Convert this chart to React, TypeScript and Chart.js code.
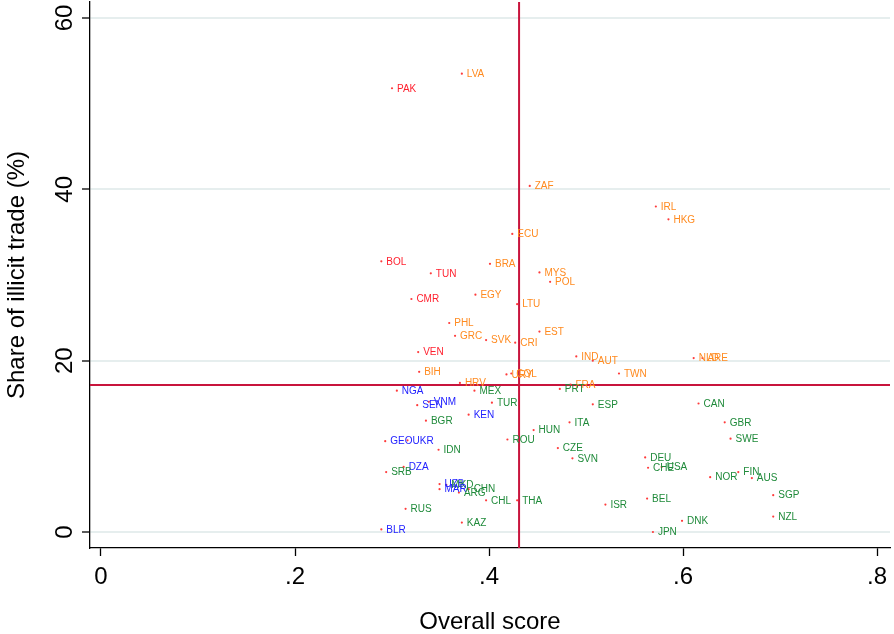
import React, { useEffect, useRef } from "react";
import { Chart, registerables } from "chart.js";

Chart.register(...registerables);

// ---- Data ----
const countries = [
  "PAK", "LVA", "ZAF", "ECU", "IRL", "HKG", "BRA", "MYS", "POL", "LTU",
  "EST", "SVK", "CRI", "IND", "NLD", "ARE", "AUT", "BOL", "TUN", "CMR",
  "EGY", "PHL", "GRC", "VEN", "BIH", "HRV", "URY", "COL", "TWN", "FRA",
  "PRT", "NGA", "MEX", "SEN", "VNM", "TUR", "KEN", "ESP", "CAN", "BGR",
  "ITA", "GBR", "HUN", "SWE", "ROU", "GEO", "UKR", "IDN", "CZE", "SVN",
  "DEU", "CHE", "USA", "DZA", "SRB", "FIN", "NOR", "AUS", "UZB", "MKD",
  "MAR", "CHN", "ARG", "SGP", "BEL", "CHL", "THA", "ISR", "RUS", "NZL",
  "DNK", "KAZ", "BLR", "JPN",
];
const overallScore = [
  0.300, 0.372, 0.442, 0.424, 0.572, 0.585, 0.401, 0.452, 0.463, 0.429,
  0.452, 0.397, 0.427, 0.490, 0.611, 0.620, 0.507, 0.289, 0.340, 0.320,
  0.386, 0.359, 0.365, 0.327, 0.328, 0.370, 0.418, 0.423, 0.534, 0.484,
  0.473, 0.305, 0.385, 0.326, 0.338, 0.403, 0.379, 0.507, 0.616, 0.335,
  0.483, 0.643, 0.446, 0.649, 0.419, 0.293, 0.316, 0.348, 0.471, 0.486,
  0.561, 0.564, 0.578, 0.312, 0.294, 0.657, 0.628, 0.671, 0.349, 0.356,
  0.349, 0.379, 0.369, 0.693, 0.563, 0.397, 0.429, 0.520, 0.314, 0.693,
  0.599, 0.372, 0.289, 0.569,
];
const illicitShare = [
  51.8, 53.5, 40.4, 34.8, 38.0, 36.5, 31.3, 30.3, 29.2, 26.6,
  23.4, 22.4, 22.1, 20.5, 20.3, 20.3, 20.0, 31.6, 30.2, 27.2,
  27.7, 24.4, 22.9, 21.0, 18.7, 17.4, 18.4, 18.5, 18.5, 17.2,
  16.7, 16.5, 16.5, 14.8, 15.2, 15.1, 13.7, 14.9, 15.0, 13.0,
  12.8, 12.8, 11.9, 10.9, 10.8, 10.6, 10.7, 9.6, 9.8, 8.6,
  8.7, 7.5, 7.6, 7.6, 7.0, 7.0, 6.4, 6.3, 5.6, 5.5,
  5.0, 5.0, 4.6, 4.3, 3.9, 3.7, 3.7, 3.2, 2.7, 1.8,
  1.3, 1.1, 0.3, 0.0,
];
// group: r = red, o = orange, b = blue, g = green
const group = [
  "r", "o", "o", "o", "o", "o", "o", "o", "o", "o",
  "o", "o", "o", "o", "o", "o", "o", "r", "r", "r",
  "o", "o", "o", "r", "o", "o", "o", "o", "o", "o",
  "g", "b", "g", "b", "b", "g", "b", "g", "g", "g",
  "g", "g", "g", "g", "g", "b", "b", "g", "g", "g",
  "g", "g", "g", "b", "g", "g", "g", "g", "b", "g",
  "b", "g", "g", "g", "g", "g", "g", "g", "g", "g",
  "g", "g", "b", "g",
];
const meanScore = 0.431;
const meanShare = 17.16;
const xTicks = [0, 0.2, 0.4, 0.6, 0.8];
const xTickLabels = ["0", ".2", ".4", ".6", ".8"];
const yTicks = [0, 20, 40, 60];
const yTickLabels = ["0", "20", "40", "60"];

const groupColors: Record<string, string> = {
  r: "#ff1f2d",
  o: "#ff8a1f",
  b: "#2222ff",
  g: "#1f8a3a",
};

const FONT = "'Liberation Sans', Arial, sans-serif";

const refLinesPlugin = {
  id: "refLines",
  beforeDatasetsDraw(chart: any) {
    const { ctx, chartArea, scales } = chart;
    const x = scales.x.getPixelForValue(meanScore);
    const y = scales.y.getPixelForValue(meanShare);
    ctx.save();
    ctx.strokeStyle = "#c8143c";
    ctx.lineWidth = 2;
    ctx.beginPath();
    ctx.moveTo(x, chartArea.top);
    ctx.lineTo(x, chartArea.bottom);
    ctx.moveTo(chartArea.left, y);
    ctx.lineTo(chartArea.right, y);
    ctx.stroke();
    ctx.restore();
  },
};

const labelPlugin = {
  id: "pointLabels",
  afterDatasetsDraw(chart: any) {
    const { ctx } = chart;
    ctx.save();
    ctx.font = `10px ${FONT}`;
    ctx.textBaseline = "middle";
    ctx.textAlign = "left";
    const meta = chart.getDatasetMeta(0);
    meta.data.forEach((el: any, i: number) => {
      ctx.fillStyle = groupColors[group[i]];
      ctx.fillText(countries[i], el.x + 5, el.y + 0.5);
    });
    ctx.restore();
  },
};

export default function App() {
  const ref = useRef<HTMLCanvasElement>(null);
  useEffect(() => {
    document.body.style.margin = "0";
    const canvas = ref.current!;
    const chart = new Chart(canvas, {
      type: "scatter",
      data: {
        datasets: [
          {
            data: countries.map((_, i) => ({ x: overallScore[i], y: illicitShare[i] })),
            pointRadius: 1.1,
            pointBackgroundColor: "#ff3b3b",
            pointBorderWidth: 0,
            pointHoverRadius: 1.1,
          },
        ],
      },
      options: {
        animation: false,
        responsive: false,
        maintainAspectRatio: false,
        layout: { padding: { top: 2, right: 4, left: 0, bottom: 0 } },
        plugins: { legend: { display: false }, tooltip: { enabled: false } },
        scales: {
          x: {
            type: "linear",
            min: -0.01134,
            max: 0.8134,
            afterFit: (s: any) => {
              s.height = 86;
              s.paddingLeft = 0;
              s.paddingRight = 0;
            },
            afterBuildTicks: (s: any) => { s.ticks = xTicks.map((v) => ({ value: v })); },
            ticks: {
              callback: (v: any) => xTickLabels[xTicks.indexOf(Number(v))] ?? "",
              color: "#000",
              font: { family: FONT, size: 24 },
              padding: 7,
              maxRotation: 0,
              minRotation: 0,
            },
            grid: { drawOnChartArea: false, drawTicks: true, tickLength: 8, tickColor: "#000", tickWidth: 1.3 },
            border: { display: true, color: "#000", width: 1.3 },
            title: {
              display: true,
              text: "Overall score",
              color: "#000",
              font: { family: FONT, size: 24, lineHeight: 1 },
              padding: { top: 0, bottom: 0 },
            },
          },
          y: {
            type: "linear",
            min: -1.868,
            max: 61.87,
            afterFit: (s: any) => {
              s.width = 90;
              s.paddingTop = 0;
              s.paddingBottom = 0;
            },
            afterBuildTicks: (s: any) => { s.ticks = yTicks.map((v) => ({ value: v })); },
            ticks: {
              callback: (v: any) => yTickLabels[yTicks.indexOf(Number(v))] ?? "",
              color: "#000",
              font: { family: FONT, size: 24 },
              padding: 3,
              minRotation: 90,
              maxRotation: 90,
              crossAlign: "center",
            },
            grid: { color: "#e6eeee", lineWidth: 2, drawTicks: true, tickLength: 8, tickColor: "#000", tickWidth: 1.3 },
            border: { display: true, color: "#000", width: 1.3 },
            title: {
              display: true,
              text: "Share of illicit trade (%)",
              color: "#000",
              font: { family: FONT, size: 24, lineHeight: 1.2 },
              padding: { top: 3, bottom: 0 },
            },
          },
        },
      },
      plugins: [refLinesPlugin, labelPlugin],
    });
    return () => chart.destroy();
  }, []);
  return (
    <div style={{ position: "absolute", left: 0, top: 0, width: 894, height: 634 }}>
      <canvas ref={ref} width={894} height={634} style={{ width: 894, height: 634, display: "block" }} />
    </div>
  );
}
